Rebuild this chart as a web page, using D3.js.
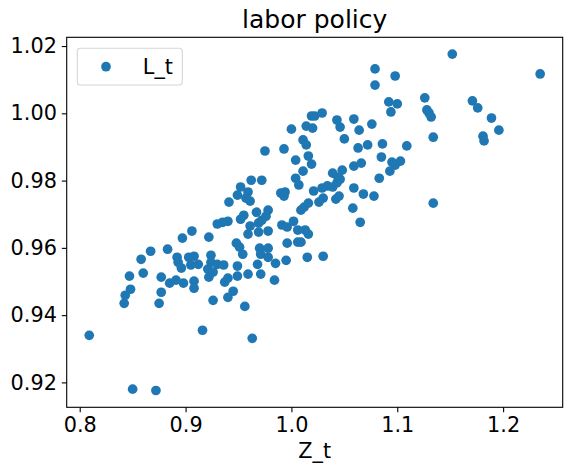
<!DOCTYPE html>
<html>
<head>
<meta charset="utf-8">
<script src="https://cdn.jsdelivr.net/npm/d3@7"></script>
<style>
	body { margin: 0; background: #fff; }
	text { font-family: "DejaVu Sans", sans-serif; fill: #000; }
</style>
</head>
<body>
<div id="grafico"></div>
<script>

// valores (Z_t no eixo x, L_t no eixo y)
var Z_t = [
	0.809, 0.850, 0.872, 0.842, 0.843, 0.848, 0.847, 0.860, 0.858, 0.867,
	0.883, 0.875, 0.877, 0.877, 0.885, 0.891, 0.892, 0.893, 0.896, 0.898,
	0.908, 0.908, 0.903, 0.908, 0.905, 0.912, 0.897, 0.906, 0.922, 0.924,
	0.924, 0.921, 0.922, 0.926, 0.926, 0.916, 0.930, 0.936, 0.937, 0.940,
	0.945, 0.940, 0.949, 0.949, 0.959, 0.956, 0.963, 0.948, 0.951, 0.954,
	0.968, 0.971, 0.970, 0.971, 0.978, 0.978, 0.985, 0.984, 0.995, 0.996,
	1.006, 1.015, 1.030, 0.978, 0.959, 0.961, 0.969, 0.969, 0.930, 0.935,
	0.940, 0.955, 0.972, 0.967, 0.978, 0.976, 0.991, 0.996, 1.002, 1.006,
	1.013, 1.016, 1.009, 1.009, 1.012, 1.016, 0.941, 0.949, 0.957, 0.961,
	0.959, 0.952, 0.962, 0.972, 0.990, 0.994, 0.993, 1.004, 1.007, 1.011,
	1.004, 1.016, 1.019, 0.975, 0.993, 1.000, 1.011, 1.014, 1.014, 1.020,
	1.019, 1.022, 1.029, 1.043, 1.046, 1.059, 1.064, 1.076, 1.050, 1.063,
	1.072, 1.086, 1.109, 1.085, 1.059, 1.066, 1.095, 1.103, 1.098, 1.093,
	1.039, 1.048, 1.044, 1.083, 1.021, 1.029, 1.034, 1.039, 1.043, 1.046,
	1.059, 1.068, 1.078, 1.030, 1.026, 1.042, 1.045, 1.058, 1.065, 1.134,
	1.079, 1.079, 1.098, 1.092, 1.100, 1.094, 1.126, 1.128, 1.130, 1.132,
	1.134, 1.152, 1.235, 1.171, 1.176, 1.189, 1.196, 1.181, 1.182, 0.952
];

var L_t = [
	0.9340, 0.9180, 0.9176, 0.9435, 0.9459, 0.9477, 0.9516, 0.9525, 0.9566, 0.9590,
	0.9596, 0.9435, 0.9468, 0.9513, 0.9495, 0.9504, 0.9572, 0.9557, 0.9540, 0.9495,
	0.9501, 0.9480, 0.9572, 0.9575, 0.9549, 0.9551, 0.9629, 0.9650, 0.9632, 0.9578,
	0.9557, 0.9537, 0.9513, 0.9528, 0.9444, 0.9355, 0.9551, 0.9549, 0.9498, 0.9510,
	0.9471, 0.9453, 0.9546, 0.9516, 0.9522, 0.9426, 0.9331, 0.9614, 0.9602, 0.9581,
	0.9551, 0.9522, 0.9599, 0.9581, 0.9599, 0.9572, 0.9554, 0.9504, 0.9563, 0.9614,
	0.9617, 0.9572, 0.9575, 0.9650, 0.9641, 0.9665, 0.9674, 0.9647, 0.9671, 0.9676,
	0.9679, 0.9697, 0.9682, 0.9706, 0.9712, 0.9694, 0.9668, 0.9662, 0.9679, 0.9653,
	0.9653, 0.9641, 0.9617, 0.9712, 0.9721, 0.9733, 0.9736, 0.9757, 0.9748, 0.9739,
	0.9766, 0.9781, 0.9801, 0.9801, 0.9763, 0.9766, 0.9754, 0.9807, 0.9787, 0.9828,
	0.9861, 0.9873, 0.9849, 0.9888, 0.9894, 0.9953, 0.9921, 0.9906, 0.9962, 0.9956,
	0.9992, 0.9992, 1.0001, 0.9980, 0.9959, 0.9983, 0.9950, 0.9968, 0.9924, 0.9897,
	0.9906, 0.9909, 0.9903, 0.9870, 0.9843, 0.9852, 0.9855, 0.9858, 0.9846, 0.9828,
	0.9822, 0.9831, 0.9810, 0.9807, 0.9769, 0.9778, 0.9784, 0.9781, 0.9793, 0.9804,
	0.9778, 0.9760, 0.9754, 0.9748, 0.9736, 0.9745, 0.9754, 0.9718, 0.9676, 0.9733,
	1.0132, 1.0084, 1.0111, 1.0034, 1.0028, 1.0004, 1.0046, 1.0010, 1.0001, 0.9989,
	0.9929, 1.0176, 1.0117, 1.0037, 1.0016, 0.9986, 0.9950, 0.9932, 0.9918, 0.9685
];

var xTicks = [0.8, 0.9, 1.0, 1.1, 1.2];
var yTicks = [0.92, 0.94, 0.96, 0.98, 1.00, 1.02];

var titulo = "labor policy";
var nomeX = "Z_t";
var nomeSerie = "L_t";

function monta_grafico() {

	var data = Z_t.map(function(z, i) { return {z: z, l: L_t[i]}; });

	// set the dimensions and margins of the graph
	var margin = {top: 37.3, right: 9.3, bottom: 65.7, left: 66.7},
		width = 572 - margin.left - margin.right,
		height = 473 - margin.top - margin.bottom;

	var cor = "#1f77b4";
	var fonte = 20.8;

	// matplotlib style margins: 5% of the data range on each side
	function pad(ext) {
		var r = ext[1] - ext[0];
		return [ext[0] - 0.05 * r, ext[1] + 0.05 * r];
	}

	var x = d3.scaleLinear()
		.domain(pad(d3.extent(data, function(d) { return d.z; })))
		.range([0, width]);
	var y = d3.scaleLinear()
		.domain(pad(d3.extent(data, function(d) { return d.l; })))
		.range([height, 0]);

	var svg = d3.select("#grafico").append("svg")
		.attr("width", 572)
		.attr("height", 473)
	  .append("g")
		.attr("transform", "translate(" + margin.left + "," + margin.top + ")");

	// the points
	svg.append("g")
		.selectAll("circle")
		.data(data)
		.enter().append("circle")
		.attr("cx", function(d) { return x(d.z); })
		.attr("cy", function(d) { return y(d.l); })
		.attr("r", 4.85)
		.style("fill", cor);

	// X axis
	var gx = svg.append("g")
		.attr("transform", "translate(0," + height + ")")
		.call(d3.axisBottom(x)
			.tickValues(xTicks)
			.tickFormat(d3.format(".1f"))
			.tickSize(4.9)
			.tickPadding(4.9));

	// Y axis
	var gy = svg.append("g")
		.call(d3.axisLeft(y)
			.tickValues(yTicks)
			.tickFormat(d3.format(".2f"))
			.tickSize(4.9)
			.tickPadding(4.9));

	[gx, gy].forEach(function(g) {
		g.select(".domain").remove();
		g.selectAll(".tick line").style("stroke", "#000").style("stroke-width", 1.1);
		g.selectAll(".tick text")
			.style("font-size", fonte + "px")
			.style("font-family", "'DejaVu Sans', sans-serif")
			.style("fill", "#000");
	});

	// frame (spines)
	svg.append("rect")
		.attr("x", 0)
		.attr("y", 0)
		.attr("width", width)
		.attr("height", height)
		.style("fill", "none")
		.style("stroke", "#000")
		.style("stroke-width", 1.1);

	// title
	svg.append("text")
		.attr("x", width / 2)
		.attr("y", -9)
		.attr("text-anchor", "middle")
		.style("font-size", "25px")
		.text(titulo);

	// x label
	svg.append("text")
		.attr("x", width / 2)
		.attr("y", height + 51)
		.attr("text-anchor", "middle")
		.style("font-size", fonte + "px")
		.text(nomeX);

	// legend
	var leg = svg.append("g")
		.attr("transform", "translate(10.6,11)");
	leg.append("rect")
		.attr("width", 105)
		.attr("height", 36.7)
		.attr("rx", 3)
		.style("fill", "#fff")
		.style("fill-opacity", 0.8)
		.style("stroke", "#d6d6d6")
		.style("stroke-width", 1.1);
	leg.append("circle")
		.attr("cx", 28.7)
		.attr("cy", 18.4)
		.attr("r", 4.85)
		.style("fill", cor);
	leg.append("text")
		.attr("x", 65.5)
		.attr("y", 25.6)
		.style("font-size", fonte + "px")
		.text(nomeSerie);
}

monta_grafico();
</script>
</body>
</html>
